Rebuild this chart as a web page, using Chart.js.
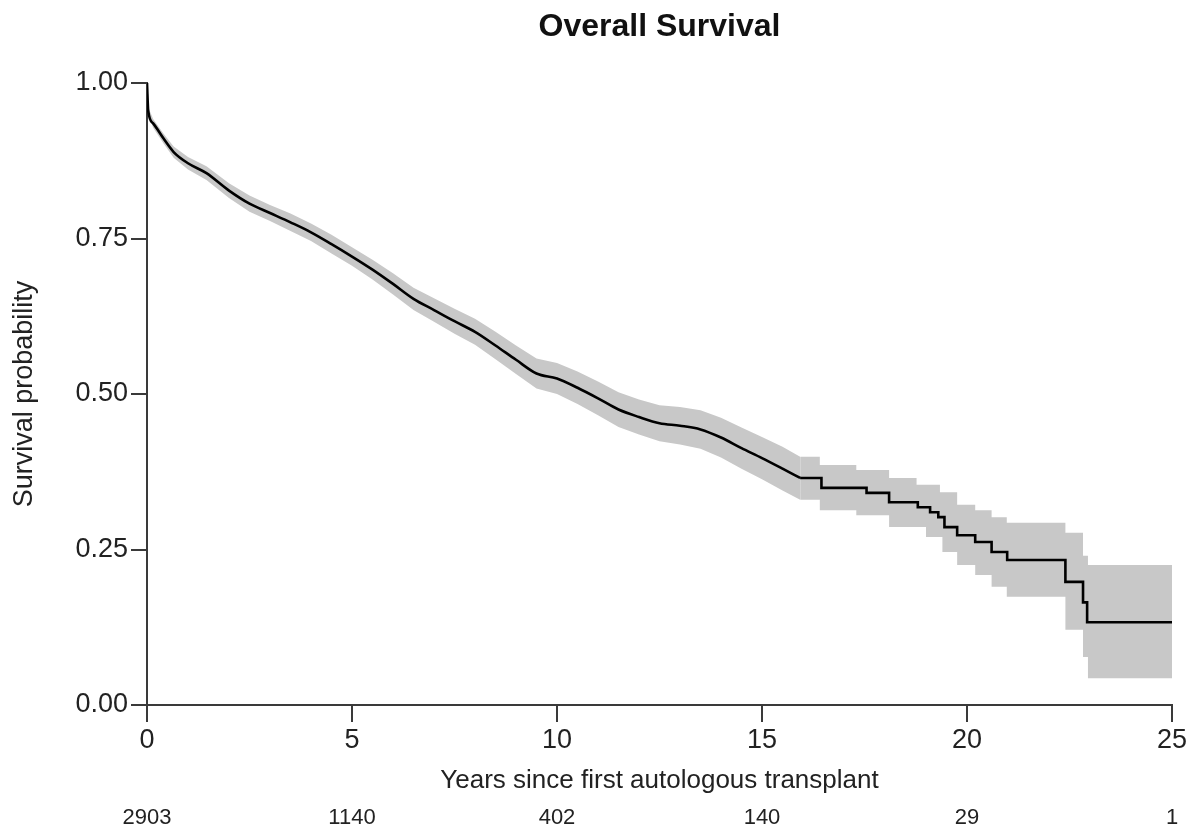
<!DOCTYPE html>
<html>
<head>
<meta charset="utf-8">
<script src="https://cdn.jsdelivr.net/npm/chart.js@4.4.1/dist/chart.umd.min.js"></script>
<style>
  html, body { margin: 0; padding: 0; background: #fff; }
  #wrap { width: 1200px; height: 831px; }
</style>
</head>
<body>
<div id="wrap"><canvas id="osChart" width="1200" height="831"></canvas></div>
<script>
// Kaplan-Meier estimate, dense early part (drawn as a smooth line)
const earlyYears = [0, 0.03, 0.15, 0.4, 0.65, 1.0, 1.45, 2.0, 2.5, 3.0, 3.5, 4.0, 4.5, 5.0, 5.5, 6.0, 6.5, 7.0, 7.5, 8.0, 8.5, 9.0, 9.5, 10.0, 10.5, 11.0, 11.5, 12.0, 12.5, 13.0, 13.5, 14.0, 14.5, 15.0, 15.5, 15.93];
const earlySurv  = [1.00, 0.955, 0.935, 0.911, 0.889, 0.871, 0.855, 0.827, 0.806, 0.791, 0.776, 0.760, 0.741, 0.721, 0.700, 0.677, 0.653, 0.635, 0.617, 0.600, 0.578, 0.555, 0.533, 0.525, 0.510, 0.493, 0.475, 0.463, 0.453, 0.449, 0.443, 0.430, 0.413, 0.397, 0.380, 0.365];
const earlyUpper = [1.00, 0.961, 0.942, 0.919, 0.898, 0.881, 0.866, 0.839, 0.819, 0.804, 0.790, 0.774, 0.756, 0.736, 0.716, 0.694, 0.671, 0.654, 0.637, 0.621, 0.600, 0.578, 0.557, 0.550, 0.536, 0.520, 0.503, 0.491, 0.482, 0.479, 0.474, 0.462, 0.446, 0.431, 0.415, 0.399];
const earlyLower = [1.00, 0.949, 0.928, 0.903, 0.880, 0.861, 0.844, 0.815, 0.793, 0.778, 0.762, 0.746, 0.726, 0.706, 0.684, 0.660, 0.635, 0.616, 0.597, 0.579, 0.556, 0.532, 0.509, 0.500, 0.484, 0.466, 0.447, 0.435, 0.424, 0.419, 0.412, 0.398, 0.380, 0.363, 0.345, 0.330];

// sparse tail (step function, value holds from its time until the next one)
const lateYears = [15.93, 16.45, 17.55, 18.1, 18.8, 19.1, 19.3, 19.45, 19.76, 20.2, 20.6, 20.98, 22.4, 22.83, 22.93, 25.0];
const lateSurv  = [0.365, 0.349, 0.341, 0.326, 0.318, 0.310, 0.302, 0.286, 0.273, 0.262, 0.246, 0.233, 0.198, 0.165, 0.133, 0.133];

const bandYears = [15.93, 16.41, 17.3, 18.1, 18.77, 19.0, 19.34, 19.4, 19.76, 20.2, 20.6, 20.97, 22.4, 22.83, 22.95, 25.0];
const bandUpper = [0.399, 0.386, 0.378, 0.365, 0.354, 0.354, 0.342, 0.342, 0.322, 0.313, 0.302, 0.293, 0.277, 0.240, 0.225, 0.225];
const bandLower = [0.330, 0.313, 0.305, 0.286, 0.286, 0.270, 0.270, 0.246, 0.225, 0.209, 0.190, 0.174, 0.121, 0.077, 0.043, 0.043];

// number at risk
const riskYears = [0, 5, 10, 15, 20, 25];
const riskCounts = ['2903', '1140', '402', '140', '29', '1'];

const yTicks = [0, 0.25, 0.5, 0.75, 1];

const FONT = 'Arial, "Liberation Sans", sans-serif';
const BAND = '#c8c8c8';
const AXIS = '#3a3a3a';

function pts(xs, ys) {
    return xs.map((x, i) => ({ x: x, y: ys[i] }));
}

// gray confidence band, drawn below the curve (higher order)
function bandSet(data, fill, stepped) {
    return {
        data: data,
        order: 2,
        borderWidth: 0,
        borderColor: 'rgba(0,0,0,0)',
        backgroundColor: BAND,
        pointRadius: 0,
        fill: fill,
        stepped: stepped,
        tension: 0
    };
}

// title, risk table
const extraText = {
    id: 'extraText',
    afterDraw(chart) {
        const ctx = chart.ctx;
        const area = chart.chartArea;
        const xs = chart.scales.x;
        ctx.save();
        ctx.fillStyle = '#111';
        ctx.textAlign = 'center';
        ctx.textBaseline = 'middle';
        ctx.font = 'bold 32px ' + FONT;
        ctx.fillText('Overall Survival', (area.left + area.right) / 2, 27);

        ctx.fillStyle = '#222';
        ctx.font = '22px ' + FONT;
        riskYears.forEach((t, i) => {
            ctx.fillText(riskCounts[i], xs.getPixelForValue(t), 818);
        });
        ctx.restore();
    }
};

new Chart(document.getElementById('osChart'), {
    type: 'line',
    data: {
        datasets: [
            bandSet(pts(earlyYears, earlyUpper), '+1', false),
            bandSet(pts(earlyYears, earlyLower), false, false),
            bandSet(pts(bandYears, bandUpper), '+1', 'before'),
            bandSet(pts(bandYears, bandLower), false, 'before'),
            {
                data: pts(earlyYears, earlySurv),
                order: 0,
                borderColor: '#000',
                borderWidth: 2.6,
                pointRadius: 0,
                fill: false,
                cubicInterpolationMode: 'monotone'
            },
            {
                data: pts(lateYears, lateSurv),
                order: 0,
                borderColor: '#000',
                borderWidth: 2.6,
                pointRadius: 0,
                fill: false,
                stepped: 'before'
            }
        ]
    },
    options: {
        responsive: false,
        animation: false,
        events: [],
        layout: { padding: { top: 83, right: 28, bottom: 34, left: 0 } },
        plugins: {
            legend: { display: false },
            tooltip: { enabled: false },
            title: { display: false }
        },
        scales: {
            x: {
                type: 'linear',
                min: 0,
                max: 25,
                afterFit: s => { s.height = 92; },
                border: { display: true, color: AXIS, width: 2 },
                grid: { drawOnChartArea: false, drawTicks: true, tickLength: 17, color: AXIS, lineWidth: 2 },
                ticks: {
                    stepSize: 5,
                    padding: 2,
                    color: '#222',
                    font: { family: FONT, size: 27 },
                    maxRotation: 0
                },
                title: {
                    display: true,
                    text: 'Years since first autologous transplant',
                    color: '#222',
                    font: { family: FONT, size: 26 },
                    padding: { top: 0, bottom: 1 }
                }
            },
            y: {
                type: 'linear',
                min: 0,
                max: 1,
                afterFit: s => { s.width = 147; },
                afterBuildTicks: s => { s.ticks = yTicks.map(v => ({ value: v })); },
                border: { display: true, color: AXIS, width: 2 },
                grid: { drawOnChartArea: false, drawTicks: true, tickLength: 16, color: AXIS, lineWidth: 2 },
                ticks: {
                    padding: 3,
                    color: '#222',
                    font: { family: FONT, size: 27 },
                    callback: v => v.toFixed(2)
                },
                title: {
                    display: true,
                    text: 'Survival probability',
                    color: '#222',
                    font: { family: FONT, size: 27 },
                    padding: { top: 8, bottom: 0 }
                }
            }
        }
    },
    plugins: [extraText]
});
</script>
</body>
</html>
